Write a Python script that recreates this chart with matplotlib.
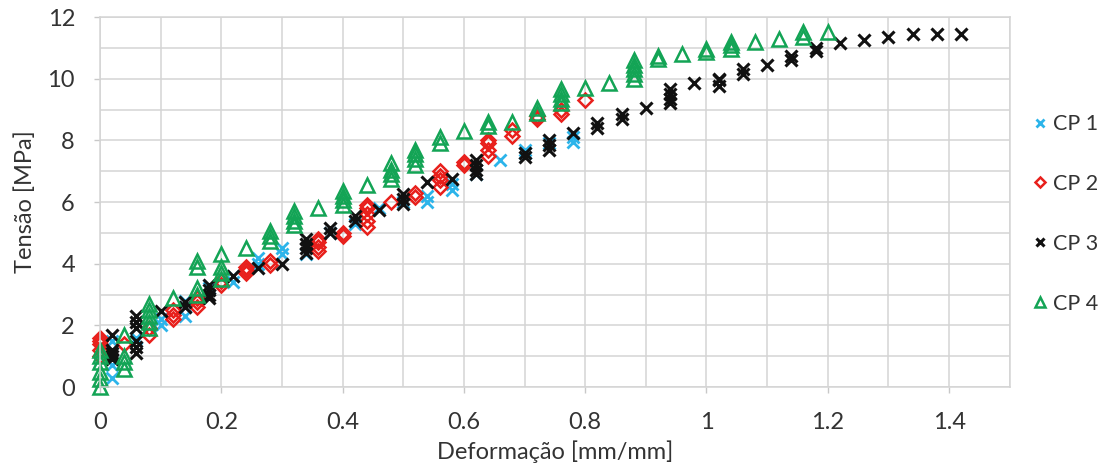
import matplotlib.pyplot as plt
from matplotlib.ticker import MultipleLocator

# CP 1 (cyan x)
cp1_x = [0.02, 0.02, 0.02, 0.02, 0.06, 0.10, 0.10, 0.14, 0.14, 0.14, 0.18,
         0.22, 0.22, 0.26, 0.26, 0.30, 0.30, 0.34, 0.38, 0.42, 0.46, 0.50,
         0.54, 0.54, 0.58, 0.58, 0.62, 0.66, 0.70, 0.70, 0.74, 0.78, 0.78]
cp1_y = [0.3, 0.7, 1.2, 1.5, 1.6, 2.0, 2.2, 2.3, 2.6, 2.8, 3.2,
         3.4, 3.6, 4.0, 4.2, 4.3, 4.5, 4.3, 5.0, 5.3, 5.8, 6.0,
         6.0, 6.2, 6.4, 6.6, 6.9, 7.35, 7.6, 7.7, 7.9, 7.95, 8.1]

# CP 2 (red diamonds)
cp2_x = [0, 0, 0, 0, 0, 0.04, 0.08, 0.08, 0.12, 0.12, 0.12, 0.16, 0.16, 0.16,
         0.20, 0.20, 0.24, 0.24, 0.24, 0.28, 0.28, 0.36, 0.36, 0.36, 0.36,
         0.40, 0.40, 0.44, 0.44, 0.44, 0.44, 0.44, 0.48, 0.52, 0.52,
         0.56, 0.56, 0.56, 0.56, 0.60, 0.60, 0.64, 0.64, 0.64, 0.64,
         0.68, 0.68, 0.72, 0.72, 0.76, 0.76, 0.80]
cp2_y = [1.0, 1.2, 1.4, 1.5, 1.6, 1.4, 1.7, 1.9, 2.2, 2.35, 2.5, 2.6, 2.75, 2.9,
         3.3, 3.45, 3.7, 3.8, 3.9, 3.95, 4.1, 4.4, 4.55, 4.7, 4.8,
         4.9, 5.0, 5.2, 5.4, 5.6, 5.8, 5.9, 6.0, 6.15, 6.3,
         6.5, 6.7, 6.85, 7.0, 7.2, 7.3, 7.5, 7.7, 7.9, 8.0,
         8.15, 8.35, 8.7, 8.8, 8.85, 9.0, 9.3]

# CP 3 (black x)
cp3_x = [0.02, 0.02, 0.02, 0.02, 0.02, 0.06, 0.06, 0.06, 0.06, 0.06, 0.06,
         0.10, 0.14, 0.14, 0.18, 0.18, 0.18, 0.18, 0.22, 0.26, 0.30,
         0.34, 0.34, 0.34, 0.34, 0.38, 0.38, 0.42, 0.42, 0.46, 0.50, 0.50, 0.50,
         0.54, 0.58, 0.62, 0.62, 0.62, 0.62, 0.70, 0.70, 0.74, 0.74, 0.74,
         0.78, 0.82, 0.82, 0.86, 0.86, 0.90, 0.94, 0.94, 0.94, 0.94, 0.98,
         1.02, 1.02, 1.02, 1.06, 1.06, 1.10, 1.14, 1.14, 1.18, 1.18,
         1.22, 1.26, 1.30, 1.34, 1.38, 1.42]
cp3_y = [0.9, 1.0, 1.1, 1.2, 1.7, 1.1, 1.3, 1.5, 1.9, 2.1, 2.3,
         2.45, 2.6, 2.75, 2.9, 3.0, 3.15, 3.3, 3.6, 3.85, 4.0,
         4.35, 4.5, 4.65, 4.8, 5.0, 5.15, 5.4, 5.55, 5.75, 5.95, 6.1, 6.25,
         6.65, 6.75, 6.9, 7.05, 7.2, 7.35, 7.45, 7.6, 7.7, 7.85, 8.0,
         8.25, 8.4, 8.55, 8.7, 8.85, 9.05, 9.2, 9.35, 9.5, 9.65, 9.85,
         9.75, 9.95, 10.0, 10.15, 10.3, 10.45, 10.6, 10.75, 10.9, 11.0,
         11.15, 11.25, 11.35, 11.45, 11.45, 11.45]

# CP 4 (green triangles)
cp4_x = [0, 0, 0, 0, 0, 0, 0.04, 0.04, 0.04, 0.04, 0.08, 0.08, 0.08, 0.08, 0.08,
         0.12, 0.16, 0.16, 0.16, 0.16, 0.20, 0.20, 0.20, 0.20, 0.24,
         0.28, 0.28, 0.28, 0.32, 0.32, 0.32, 0.32, 0.36, 0.40, 0.40, 0.40, 0.40,
         0.44, 0.48, 0.48, 0.48, 0.48, 0.52, 0.52, 0.52, 0.52, 0.56, 0.56,
         0.60, 0.64, 0.64, 0.68, 0.72, 0.72, 0.76, 0.76, 0.76, 0.76, 0.80,
         0.84, 0.88, 0.88, 0.88, 0.88, 0.88, 0.92, 0.92, 0.96, 1.00, 1.00,
         1.04, 1.04, 1.04, 1.08, 1.12, 1.16, 1.16, 1.20]
cp4_y = [0.0, 0.25, 0.5, 0.8, 1.0, 1.2, 0.6, 0.8, 1.0, 1.7, 1.9, 2.1, 2.3, 2.5, 2.7,
         2.9, 3.0, 3.2, 3.9, 4.1, 3.5, 3.7, 3.9, 4.3, 4.5,
         4.75, 4.9, 5.05, 5.25, 5.4, 5.55, 5.7, 5.8, 5.9, 6.05, 6.2, 6.35,
         6.55, 6.75, 6.9, 7.05, 7.25, 7.2, 7.4, 7.55, 7.7, 7.9, 8.1,
         8.3, 8.45, 8.6, 8.6, 8.9, 9.05, 9.2, 9.35, 9.5, 9.65, 9.7,
         9.85, 10.0, 10.15, 10.3, 10.45, 10.6, 10.65, 10.75, 10.8, 10.85, 10.95,
         10.95, 11.1, 11.2, 11.2, 11.3, 11.35, 11.5, 11.5]

plt.rcParams['font.family'] = ['Lato', 'DejaVu Sans']

fig = plt.figure(figsize=(11, 4.66), dpi=100)
ax = fig.add_axes([0.0909, 0.1695, 0.827, 0.794])

ax.plot(cp1_x, cp1_y, linestyle='none', marker='x', ms=8.5, mew=2.0,
        color='#2CB4EA', label='CP 1', clip_on=False)
ax.plot(cp2_x, cp2_y, linestyle='none', marker='D', ms=7, mew=1.8,
        mfc='none', mec='#E8201C', label='CP 2', clip_on=False)
ax.plot(cp3_x, cp3_y, linestyle='none', marker='x', ms=8.5, mew=2.2,
        color='#111111', label='CP 3', clip_on=False)
ax.plot(cp4_x, cp4_y, linestyle='none', marker='^', ms=9.5, mew=1.8,
        mfc='none', mec='#13A455', label='CP 4', clip_on=False)

ax.set_xlim(0, 1.5)
ax.set_ylim(0, 12)
ax.xaxis.set_minor_locator(MultipleLocator(0.1))
ax.yaxis.set_major_locator(MultipleLocator(2))
ax.yaxis.set_minor_locator(MultipleLocator(1))
ax.set_xticks([0, 0.2, 0.4, 0.6, 0.8, 1.0, 1.2, 1.4])
ax.set_xticklabels(['0', '0.2', '0.4', '0.6', '0.8', '1', '1.2', '1.4'])
ax.grid(True, which='both', color='#D4D4D4', linewidth=1.1)
ax.set_axisbelow(True)
for s in ax.spines.values():
    s.set_color('#D4D4D4')
    s.set_linewidth(1.1)
ax.tick_params(which='minor', length=0)
ax.tick_params(which='major', length=4, width=1, color='#C8C8C8',
               labelsize=17, labelcolor='#333333')
ax.tick_params(axis='y', pad=14)
ax.tick_params(axis='x', pad=14)

ax.set_xlabel('Deformação [mm/mm]', fontsize=17, color='#333333', labelpad=5)
ax.set_ylabel('Tensão [MPa]', fontsize=17, color='#333333', labelpad=8)

ax.legend(loc='upper left', bbox_to_anchor=(1.0, 0.79), frameon=False,
          fontsize=15.5, labelspacing=1.85, handletextpad=0.1, handlelength=1.0,
          markerscale=0.75, labelcolor='#333333')

fig.savefig('out.png', dpi=100)
